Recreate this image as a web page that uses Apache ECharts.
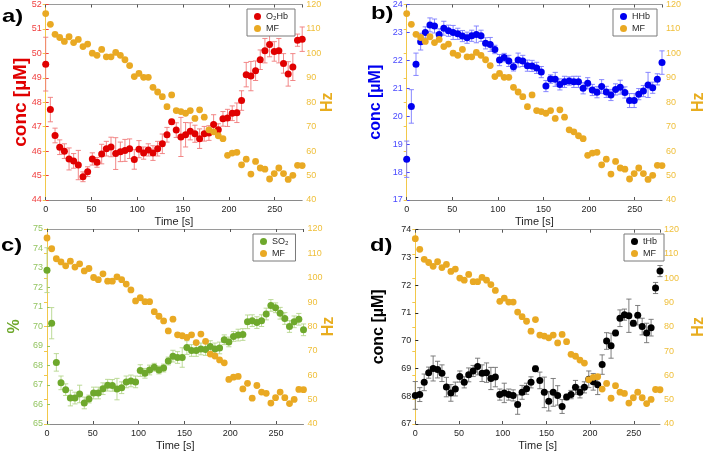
<!DOCTYPE html>
<html><head><meta charset="utf-8">
<script src="https://cdn.jsdelivr.net/npm/echarts@6/dist/echarts.min.js"></script>
<style>html,body{margin:0;padding:0;background:#fff}#c{width:708px;height:452px}</style>
</head><body><div id="c"></div>
<script>
// ---- data ----
const time = [0,5.1,10.2,15.3,20.4,25.5,30.5,35.6,40.7,45.8,50.9,56.0,61.1,66.2,71.3,76.4,81.5,86.5,91.6,96.7,101.8,106.9,112.0,117.1,122.2,127.3,132.4,137.5,142.5,147.6,152.7,157.8,162.9,168.0,173.1,178.2,183.3,188.4,193.5,198.5,203.6,208.7,213.8,218.9,224.0,229.1,234.2,239.3,244.4,249.5,254.5,259.6,264.7,269.8,274.9,280.0];
const mf = [116.3,111.9,107.8,106.5,104.9,106.8,104.4,105.7,102.8,103.8,100.1,99.2,101.6,98.6,98.6,100.4,99.2,97.4,95.0,90.5,91.8,90.2,90.2,86.1,84.2,82.3,78.2,83.0,76.6,76.2,75.5,76.6,73.4,76.9,73.9,68.7,67.9,66.3,65.1,58.3,59.2,59.5,54.4,56.7,50.6,55.8,53.1,52.6,48.6,50.8,53.1,50.8,48.4,50.1,54.2,54.1];
const o2hb = [49.56,47.70,46.64,46.16,46.0,45.68,45.6,45.43,44.95,45.16,45.68,45.54,45.88,46.1,46.17,45.9,45.97,46.03,46.1,45.66,46.08,45.92,46.05,45.92,46.1,46.3,46.67,47.2,46.86,46.58,46.67,46.81,46.71,46.51,46.71,46.74,47.09,46.87,47.32,47.36,47.55,47.57,48.07,49.13,49.07,49.29,49.74,50.11,50.36,50.08,50.11,49.59,49.16,49.44,50.54,50.58];
const o2hbErr = [1.1,0.5,0.3,0.3,0.3,0.45,0.3,0.6,0.2,0.2,0.25,0.2,0.4,0.3,0.4,0.65,0.4,0.45,0.4,0.4,0.35,0.25,0.25,0.3,0.3,0.4,0.3,0.1,0.3,0.8,0.5,0.35,0.35,0.4,0.3,0.3,0.4,0.25,0.3,0.35,0.3,0.4,0.4,0.5,0.6,0.4,0.4,0.5,0.5,0.4,0.5,0.4,0.5,0.55,0.25,0.5];
const hhb = [18.46,20.35,21.86,22.67,23.0,23.27,23.23,22.93,23.15,23.06,23.0,22.95,22.87,22.81,22.88,22.93,22.88,22.61,22.57,22.39,22.01,22.1,21.98,21.77,22.01,21.98,21.81,21.8,21.73,21.58,21.08,21.33,21.32,21.14,21.23,21.26,21.23,21.23,21.0,21.18,20.94,20.86,21.06,20.87,20.76,20.96,21.04,20.85,20.56,20.56,20.79,20.9,21.12,21.02,21.32,21.92];
const hhbErr = [0.65,0.6,0.4,0.3,0.2,0.25,0.25,0.2,0.25,0.2,0.25,0.2,0.2,0.2,0.2,0.3,0.2,0.2,0.25,0.15,0.2,0.15,0.2,0.15,0.25,0.2,0.2,0.2,0.2,0.2,0.2,0.15,0.25,0.2,0.2,0.15,0.2,0.2,0.2,0.2,0.2,0.2,0.25,0.2,0.2,0.2,0.25,0.2,0.25,0.25,0.2,0.2,0.45,0.2,0.2,0.42];
const so2 = [72.89,70.17,68.16,67.11,66.76,66.33,66.33,66.54,66.08,66.28,66.59,66.59,66.81,66.99,66.98,66.79,66.86,67.16,67.21,67.16,67.74,67.6,67.77,67.91,67.77,67.87,68.23,68.48,68.41,68.41,68.92,68.77,68.77,68.85,68.82,68.97,68.85,68.9,69.32,69.21,69.49,69.56,69.59,70.24,70.3,70.2,70.3,70.64,71.08,70.96,70.68,70.41,70.0,70.24,70.37,69.83];
const so2Err = [1.15,0.8,0.45,0.35,0.3,0.4,0.3,0.45,0.3,0.2,0.3,0.3,0.3,0.3,0.3,0.55,0.3,0.3,0.3,0.3,0.3,0.25,0.25,0.2,0.2,0.2,0.2,0.3,0.3,0.5,0.35,0.3,0.3,0.3,0.3,0.3,0.3,0.3,0.25,0.25,0.25,0.3,0.3,0.35,0.3,0.3,0.3,0.3,0.3,0.25,0.3,0.3,0.3,0.3,0.3,0.3];
const thb = [68.03,68.06,68.5,68.85,69.0,68.96,68.83,68.33,68.12,68.26,68.71,68.5,68.77,68.91,69.07,68.83,68.85,68.64,68.69,68.06,68.12,68.06,68.03,67.7,68.14,68.27,68.5,68.99,68.57,68.14,67.82,68.14,68.03,67.63,67.97,68.06,68.32,68.14,68.32,68.61,68.52,68.41,69.14,69.99,69.82,70.28,70.81,70.94,70.9,70.63,70.92,70.51,70.28,70.47,71.9,72.51];
const thbErr = [0.5,0.25,0.3,0.2,0.45,0.3,0.3,0.35,0.3,0.25,0.2,0.2,0.25,0.2,0.3,0.3,0.35,0.4,0.35,0.2,0.35,0.2,0.2,0.35,0.25,0.2,0.2,0.1,0.3,0.55,0.35,0.5,0.35,0.25,0.1,0.15,0.25,0.2,0.2,0.3,0.3,0.35,0.35,0.3,0.45,0.1,0.3,0.2,0.6,0.1,0.35,0.3,0.35,0.3,0.2,0.2];
const xTicks = {min:0, max:280, interval:50};
const hzAxis = {min:40, max:120, interval:10, name:'Hz'};

// ---- panel configuration (layout & style) ----
const FONT = 'Liberation Sans, Arial, DejaVu Sans, sans-serif';
const MFC = '#e9a923';
const panels = [
  {label:'a)', lx:2, ly:7, name:'O\u2082Hb', vals:o2hb, errs:o2hbErr, yMin:44, yMax:52, yName:'conc [\u00b5M]', yNameSize:19, yGap:15, hzGap:17,
   color:'#e00000', errColor:'#f07a7a', axisColor:'#f04040', grid:{left:45.7, top:3.5, width:256.5, height:196.5},
   legend:{left:247, top:9}},
  {label:'b)', lx:371, ly:4, name:'HHb', vals:hhb, errs:hhbErr, yMin:17, yMax:24, yName:'conc [\u00b5M]', yNameSize:16, yGap:23, hzGap:29,
   color:'#0000f0', errColor:'#7a7aff', axisColor:'#4848ff', grid:{left:406.7, top:4, width:256, height:196},
   legend:{left:613, top:9}},
  {label:'c)', lx:1, ly:236, name:'SO\u2082', vals:so2, errs:so2Err, yMin:65, yMax:75, yName:'%', yNameSize:16, yGap:24, hzGap:17,
   color:'#6ea82c', errColor:'#b5d68c', axisColor:'#93c460', grid:{left:47, top:229, width:256.5, height:197.3},
   legend:{left:253, top:234}},
  {label:'d)', lx:370, ly:236, name:'tHb', vals:thb, errs:thbErr, yMin:67, yMax:74, yName:'conc [\u00b5M]', yNameSize:16, yGap:29, hzGap:31,
   color:'#000000', errColor:'#707070', axisColor:'#262626', grid:{left:415.3, top:229.7, width:256.4, height:196.6},
   legend:{left:624, top:234}}
];

const grids = [], xAxes = [], yAxes = [], series = [], legends = [], graphics = [];
panels.forEach((p, k) => {
  grids.push(Object.assign({containLabel:false}, p.grid));
  xAxes.push({gridIndex:k, type:'value', position:'bottom', min:xTicks.min, max:xTicks.max, interval:xTicks.interval,
    name:'Time [s]', nameLocation:'middle', nameGap:16, nameMoveOverlap:false, nameTextStyle:{fontFamily:FONT, fontSize:11, color:'#262626'},
    axisLine:{lineStyle:{color:'#8a8a8a', width:1}}, axisTick:{inside:true, length:3, lineStyle:{color:'#555'}},
    axisLabel:{fontFamily:FONT, fontSize:9, color:'#262626', margin:5, showMaxLabel:false}, splitLine:{show:false}});
  xAxes.push({gridIndex:k, type:'value', position:'top', min:xTicks.min, max:xTicks.max, interval:xTicks.interval,
    axisLine:{lineStyle:{color:'#9a9a9a', width:1}}, axisTick:{inside:true, length:3, lineStyle:{color:'#555'}},
    axisLabel:{show:false}, splitLine:{show:false}});
  yAxes.push({gridIndex:k, type:'value', position:'left', min:p.yMin, max:p.yMax, interval:1,
    name:p.yName, nameLocation:'middle', nameRotate:90, nameGap:p.yGap, nameMoveOverlap:false,
    nameTextStyle:{fontFamily:FONT, fontSize:p.yNameSize, fontWeight:'bold', color:p.color},
    axisLine:{show:true, lineStyle:{color:p.axisColor, width:1}}, axisTick:{show:true, inside:true, length:3, lineStyle:{color:p.axisColor}},
    axisLabel:{fontFamily:FONT, fontSize:9, color:p.axisColor, margin:4}, splitLine:{show:false}});
  yAxes.push({gridIndex:k, type:'value', position:'right', min:hzAxis.min, max:hzAxis.max, interval:hzAxis.interval,
    name:hzAxis.name, nameLocation:'middle', nameRotate:90, nameGap:p.hzGap, nameMoveOverlap:false,
    nameTextStyle:{fontFamily:FONT, fontSize:16, fontWeight:'bold', color:'#e8ad1f'},
    axisLine:{show:true, lineStyle:{color:'#f2c84a', width:1}}, axisTick:{show:true, inside:true, length:3, lineStyle:{color:'#f2c84a'}},
    axisLabel:{fontFamily:FONT, fontSize:9, color:'#efbf3a', margin:4}, splitLine:{show:false}});
  const ec = p.errColor;
  series.push({type:'custom', name:p.name + ' err', xAxisIndex:2*k, yAxisIndex:2*k, silent:true, z:2,
    data: time.map((t, i) => [t, p.vals[i] - p.errs[i], p.vals[i] + p.errs[i]]),
    encode:{x:0, y:[1,2]},
    renderItem:(params, api) => {
      const x = api.value(0);
      const lo = api.coord([x, api.value(1)]);
      const hi = api.coord([x, api.value(2)]);
      const w = 2.6, st = {stroke:ec, lineWidth:0.9};
      return {type:'group', children:[
        {type:'line', shape:{x1:lo[0], y1:lo[1], x2:hi[0], y2:hi[1]}, style:st},
        {type:'line', shape:{x1:lo[0]-w, y1:lo[1], x2:lo[0]+w, y2:lo[1]}, style:st},
        {type:'line', shape:{x1:hi[0]-w, y1:hi[1], x2:hi[0]+w, y2:hi[1]}, style:st}]};
    }});
  series.push({type:'scatter', name:p.name, xAxisIndex:2*k, yAxisIndex:2*k, z:3, symbol:'circle', symbolSize:7,
    itemStyle:{color:p.color, opacity:1}, data: time.map((t, i) => [t, p.vals[i]])});
  series.push({type:'scatter', name:'MF', xAxisIndex:2*k, yAxisIndex:2*k+1, z:4, symbol:'circle', symbolSize:6.8,
    itemStyle:{color:MFC, opacity:1}, data: time.map((t, i) => [t, mf[i]])});
  legends.push({left:p.legend.left, top:p.legend.top, orient:'vertical', data:[p.name, 'MF'], selectedMode:false,
    backgroundColor:'#fff', borderColor:'#7a7a7a', borderWidth:1, borderRadius:0, padding:[3,7,3,7], itemGap:3,
    itemWidth:7, itemHeight:7, icon:'circle', textStyle:{fontFamily:FONT, fontSize:9, color:'#262626'}});
  graphics.push({type:'text', x:p.lx, y:p.ly, scaleX:1.25, style:{text:p.label, font:'bold 19px ' + FONT, fill:'#000', textVerticalAlign:'top'}});
});

const chart = echarts.init(document.getElementById('c'), null, {renderer:'canvas'});
chart.setOption({animation:false, backgroundColor:'#fff', grid:grids, xAxis:xAxes, yAxis:yAxes, series:series, legend:legends, graphic:graphics});
</script></body></html>
